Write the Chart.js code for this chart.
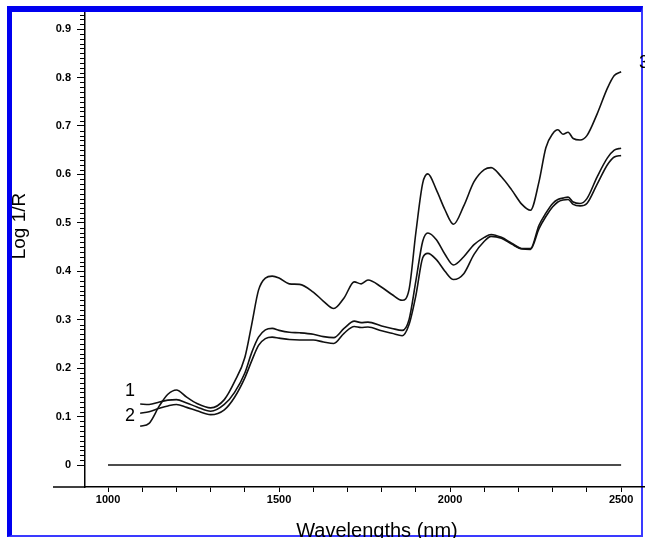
<!DOCTYPE html>
<html>
<head>
<meta charset="utf-8">
<script src="https://cdn.jsdelivr.net/npm/chart.js@4.4.0/dist/chart.umd.min.js"></script>
<style>
  html, body { margin: 0; padding: 0; background: #fff; overflow: hidden; }
  #wrap { position: relative; width: 645px; height: 538px; overflow: hidden; }
  #frame { position: absolute; left: 7px; top: 6px; width: 636px; height: 531px; box-sizing: border-box;
           border-left: 5px solid #0000f0; border-top: 6px solid #0000f0;
           border-right: 2px solid #3a3aff; border-bottom: 2px solid #3a3aff; }
  #chart { position: absolute; left: 0; top: 0; }
</style>
</head>
<body>
<div id="wrap">
  <div id="frame"></div>
  <canvas id="chart" width="669" height="538"></canvas>
</div>
<script>
// wavelengths (nm)
var wavelengths = [1094, 1120, 1150, 1175, 1200, 1230, 1260, 1300, 1340, 1370, 1400, 1420, 1440, 1460, 1480,
  1500, 1530, 1560, 1600, 1630, 1660, 1690, 1720, 1740, 1760, 1800, 1830, 1860, 1880, 1900,
  1920, 1935, 1960, 1985, 2010, 2040, 2070, 2100, 2120, 2150, 2180, 2210, 2235, 2260, 2280,
  2300, 2315, 2330, 2345, 2360, 2380, 2400, 2430, 2460, 2480, 2500];

// Log 1/R spectra
var spectrum1 = [0.126, 0.125, 0.130, 0.134, 0.135, 0.128, 0.120, 0.111, 0.125, 0.150, 0.190, 0.232, 0.264, 0.279, 0.282,
  0.278, 0.274, 0.273, 0.270, 0.265, 0.263, 0.282, 0.297, 0.294, 0.295, 0.287, 0.282, 0.278, 0.300, 0.380,
  0.462, 0.479, 0.465, 0.435, 0.413, 0.430, 0.455, 0.470, 0.476, 0.470, 0.458, 0.447, 0.447, 0.495, 0.520,
  0.540, 0.548, 0.551, 0.553, 0.543, 0.540, 0.550, 0.595, 0.634, 0.650, 0.654];

var spectrum2 = [0.107, 0.110, 0.117, 0.122, 0.125, 0.119, 0.112, 0.104, 0.114, 0.140, 0.180, 0.215, 0.247, 0.261, 0.264,
  0.262, 0.259, 0.258, 0.258, 0.254, 0.251, 0.272, 0.286, 0.284, 0.285, 0.277, 0.272, 0.267, 0.290, 0.350,
  0.428, 0.437, 0.424, 0.400, 0.383, 0.395, 0.435, 0.462, 0.472, 0.468, 0.456, 0.446, 0.445, 0.488, 0.513,
  0.533, 0.543, 0.547, 0.548, 0.538, 0.535, 0.540, 0.580, 0.620, 0.636, 0.639];

var spectrum3 = [0.080, 0.086, 0.122, 0.146, 0.155, 0.140, 0.127, 0.118, 0.135, 0.172, 0.222, 0.290, 0.361, 0.386, 0.390,
  0.386, 0.374, 0.373, 0.357, 0.338, 0.323, 0.345, 0.378, 0.374, 0.382, 0.367, 0.352, 0.340, 0.362, 0.480,
  0.582, 0.601, 0.568, 0.527, 0.497, 0.535, 0.585, 0.610, 0.614, 0.595, 0.568, 0.538, 0.526, 0.585, 0.655,
  0.684, 0.692, 0.683, 0.687, 0.674, 0.671, 0.680, 0.725, 0.778, 0.804, 0.812];

// zero baseline
var baselineX = [1000, 2500];
var baselineY = [0, 0];

// tick labels
var xTickLabels = [1000, 1500, 2000, 2500];
var yTickLabels = [0, 0.1, 0.2, 0.3, 0.4, 0.5, 0.6, 0.7, 0.8, 0.9];

var curveNames = ['1', '2', '3'];

function toPoints(xs, ys) {
  return xs.map(function (x, i) { return {x: x, y: ys[i]}; });
}

Chart.defaults.font.family = 'Liberation Sans, Arial, sans-serif';
Chart.defaults.color = '#000';

var tickFont = {family: 'Liberation Sans Narrow, Liberation Sans, Arial', size: 11, weight: 'bold'};

function lineSet(data, width) {
  return {
    data: data,
    borderColor: '#111',
    borderWidth: width,
    pointRadius: 0,
    fill: false,
    cubicInterpolationMode: 'monotone'
  };
}

// axis titles, minor ticks, curve numbers
var decorations = {
  id: 'decorations',
  afterDraw: function (chart) {
    var ctx = chart.ctx, a = chart.chartArea;
    var xs = chart.scales.x, ys = chart.scales.y;
    ctx.save();
    ctx.strokeStyle = '#000';
    ctx.lineWidth = 1.5;
    ctx.beginPath();
    ctx.moveTo(53, a.bottom);
    ctx.lineTo(a.left, a.bottom);
    ctx.stroke();

    // minor ticks on y
    ctx.lineWidth = 1;
    ctx.beginPath();
    for (var i = 1; i <= 93; i++) {
      if (i % 10 === 0) continue;
      var py = Math.round(ys.getPixelForValue(i / 100)) + 0.5;
      ctx.moveTo(a.left - 5, py);
      ctx.lineTo(a.left, py);
    }
    ctx.stroke();

    ctx.fillStyle = '#000';
    ctx.font = '20px Liberation Sans, Arial, sans-serif';
    ctx.textAlign = 'center';
    ctx.textBaseline = 'alphabetic';
    ctx.fillText('Wavelengths (nm)', (a.left + a.right) / 2, 537);

    ctx.save();
    ctx.translate(25, 226);
    ctx.rotate(-Math.PI / 2);
    ctx.font = '19px Liberation Sans, Arial, sans-serif';
    ctx.fillText('Log 1/R', 0, 0);
    ctx.restore();

    ctx.font = '18px Liberation Sans, Arial, sans-serif';
    ctx.textBaseline = 'middle';
    ctx.fillText(curveNames[0], xs.getPixelForValue(1064), ys.getPixelForValue(0.153));
    ctx.fillText(curveNames[1], xs.getPixelForValue(1064), ys.getPixelForValue(0.101));
    ctx.textAlign = 'left';
    ctx.fillText(curveNames[2], xs.getPixelForValue(2552), ys.getPixelForValue(0.829));
    ctx.restore();
  }
};

var ctx = document.getElementById('chart').getContext('2d');

var spectraChart = new Chart(ctx, {
  type: 'line',
  data: {
    datasets: [
      lineSet(toPoints(wavelengths, spectrum1), 1.6),
      lineSet(toPoints(wavelengths, spectrum2), 1.6),
      lineSet(toPoints(wavelengths, spectrum3), 1.6),
      lineSet(toPoints(baselineX, baselineY), 1.3)
    ]
  },
  options: {
    responsive: false,
    animation: false,
    layout: {padding: {top: 12, right: 0, bottom: 0, left: 0}},
    plugins: {legend: {display: false}, tooltip: {enabled: false}},
    scales: {
      x: {
        type: 'linear',
        min: 932.7,
        max: 2640,
        border: {display: true, color: '#000', width: 1.5},
        grid: {drawOnChartArea: false, drawTicks: true, tickLength: 5, color: '#000'},
        ticks: {
          autoSkip: false,
          maxRotation: 0,
          padding: 1,
          font: tickFont,
          callback: function (v) {
            return xTickLabels.indexOf(v) >= 0 ? String(v) : '';
          }
        },
        afterBuildTicks: function (s) {
          var t = [];
          for (var v = xTickLabels[0]; v <= xTickLabels[xTickLabels.length - 1]; v += 100) t.push({value: v});
          s.ticks = t;
        },
        afterFit: function (s) { s.height = 51; }
      },
      y: {
        min: -0.0454,
        max: 0.934,
        border: {display: true, color: '#000', width: 1.5},
        grid: {drawOnChartArea: false, drawTicks: true, tickLength: 8, color: '#000'},
        ticks: {
          autoSkip: false,
          padding: 6,
          font: tickFont,
          callback: function (v) { return v === 0 ? '0' : v.toFixed(1); }
        },
        afterBuildTicks: function (s) {
          s.ticks = yTickLabels.map(function (v) { return {value: v}; });
        },
        afterFit: function (s) { s.width = 85; }
      }
    }
  },
  plugins: [decorations]
});
</script>
</body>
</html>
